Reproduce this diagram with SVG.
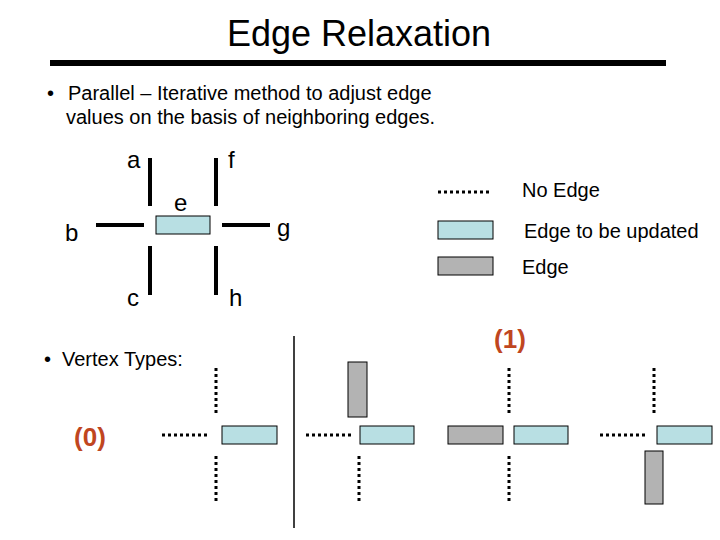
<svg xmlns="http://www.w3.org/2000/svg" width="720" height="540" viewBox="0 0 720 540">
<style>
text{font-family:"Liberation Sans",Arial,sans-serif;fill:#000}
.t{font-size:36px}
.b{font-size:20px}
.l{font-size:24px}
.n{font-size:26px;font-weight:bold;fill:#c0461f}
.e{stroke:#000;stroke-width:4;fill:none}
.d{stroke:#000;stroke-width:3;stroke-dasharray:3 3;fill:none}
.u{fill:#b8dfe3;stroke:#000;stroke-width:1}
.g{fill:#b3b3b3;stroke:#000;stroke-width:1}
</style>
<rect width="720" height="540" fill="#fff"/>
<g id="title">
<text class="t" x="359" y="46" text-anchor="middle">Edge Relaxation</text>
<rect x="50" y="60" width="616" height="6" fill="#000"/>
</g>
<g id="bullet1">
<text class="b" x="47" y="100">•</text>
<text class="b" x="68" y="100">Parallel – Iterative method to adjust edge</text>
<text class="b" x="66" y="124">values on the basis of neighboring edges.</text>
</g>
<g id="graph">
<g id="connectors">
<line class="e" x1="150" y1="158" x2="150" y2="206"/>
<line class="e" x1="216" y1="158" x2="216" y2="206"/>
<line class="e" x1="96" y1="225" x2="144" y2="225"/>
<line class="e" x1="222" y1="225" x2="270" y2="225"/>
<line class="e" x1="150" y1="246" x2="150" y2="295"/>
<line class="e" x1="216" y1="246" x2="216" y2="295"/>
</g>
<g id="node-e"><rect class="u" x="156" y="216" width="54" height="18"/></g>
<text class="l" x="127" y="168">a</text>
<text class="l" x="228" y="168">f</text>
<text class="l" x="174" y="211">e</text>
<text class="l" x="65" y="241">b</text>
<text class="l" x="277" y="236">g</text>
<text class="l" x="127" y="306">c</text>
<text class="l" x="229" y="306">h</text>
</g>
<g id="legend">
<line class="d" x1="438" y1="192" x2="490" y2="192"/>
<text class="b" x="522" y="197">No Edge</text>
<rect class="u" x="438" y="221" width="55" height="18"/>
<text class="b" x="524" y="238">Edge to be updated</text>
<rect class="g" x="438" y="257" width="55" height="18"/>
<text class="b" x="522" y="274">Edge</text>
</g>
<g id="bullet2">
<text class="b" x="44" y="366">•</text>
<text class="b" x="62" y="366">Vertex Types:</text>
</g>
<text class="n" x="90" y="446" text-anchor="middle">(0)</text>
<text class="n" x="510" y="348" text-anchor="middle">(1)</text>
<line x1="294" y1="336" x2="294" y2="528" stroke="#000" stroke-width="1.5"/>
<g id="type0">
<line class="d" x1="216" y1="368" x2="216" y2="413"/>
<line class="d" x1="162" y1="435" x2="207" y2="435"/>
<rect class="u" x="222" y="426" width="55" height="18"/>
<line class="d" x1="216" y1="456" x2="216" y2="502"/>
</g>
<g id="type0b">
<rect class="g" x="348" y="362" width="19" height="55"/>
<line class="d" x1="306" y1="435" x2="351" y2="435"/>
<rect class="u" x="360" y="426" width="54" height="18"/>
<line class="d" x1="359" y1="456" x2="359" y2="502"/>
</g>
<g id="type1">
<line class="d" x1="509" y1="368" x2="509" y2="413"/>
<rect class="g" x="448" y="426" width="55" height="18"/>
<rect class="u" x="514" y="426" width="54" height="18"/>
<line class="d" x1="509" y1="456" x2="509" y2="502"/>
</g>
<g id="type1b">
<line class="d" x1="654" y1="368" x2="654" y2="413"/>
<line class="d" x1="600" y1="435" x2="645" y2="435"/>
<rect class="u" x="657" y="426" width="55" height="18"/>
<rect class="g" x="645" y="451" width="18" height="53"/>
</g>
</svg>
